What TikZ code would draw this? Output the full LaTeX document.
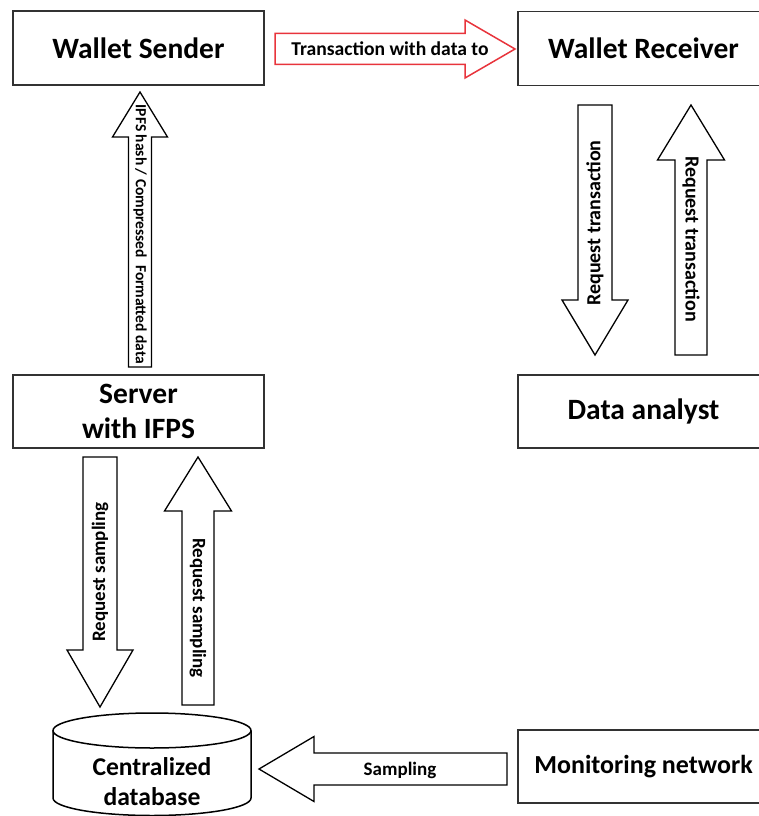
\documentclass[tikz,border=0pt]{standalone}
\usepackage{fontspec}
\setmainfont{Carlito}
\usetikzlibrary{calc}
\definecolor{arrowred}{RGB}{232,52,60}
\definecolor{boxline}{RGB}{50,50,50}
% #1 start, #2 end, #3 half shaft, #4 half head, #5 head length, #6 style
\newcommand{\blockarrow}[6]{%
  \coordinate (ba-hb) at ($(#2)!#5!(#1)$);
  \draw[#6] ($(#1)!#3!90:(#2)$) -- ($(ba-hb)!#3!90:(#2)$) -- ($(ba-hb)!#4!90:(#2)$)
    -- (#2) -- ($(ba-hb)!#4!-90:(#2)$) -- ($(ba-hb)!#3!-90:(#2)$) -- ($(#1)!#3!-90:(#2)$) -- cycle;
}
\begin{document}
\begin{tikzpicture}[x=1pt,y=-1pt,
  box/.style={draw=boxline, line width=1.5pt, fill=white, minimum width=251pt, minimum height=73pt,
    inner sep=0pt, align=center, font=\bfseries\fontsize{29.5}{35}\selectfont},
  blockarr/.style={draw=black, line width=1.3pt, fill=white, line join=miter},
  redarr/.style={draw=arrowred, line width=1.5pt, fill=white, line join=miter},
  arrlabel/.style={inner sep=0pt, font=\bfseries\fontsize{19}{22}\selectfont},
  dbline/.style={draw=black, line width=1.5pt}]
\useasboundingbox (0,0) rectangle (758,816);

% boxes
\node[box, minimum height=74pt] (sender) at (138.5,48) {Wallet Sender};
\node[box, minimum height=74pt] (receiver) at (643.5,48.5) {Wallet Receiver};
\node[box] (server) at (138.5,411.5) {Server\\with IFPS};
\node[box] (analyst) at (643.5,411.5) {Data analyst};
\node[box, font=\bfseries\fontsize{26}{31}\selectfont] (monitor) at (643.5,766.5) {Monitoring network};

% database cylinder
\fill[white] (53,730.5) -- (53,798) arc[start angle=180,end angle=360,x radius=99pt,y radius=17.5pt] -- (251,730.5) -- cycle;
\draw[dbline] (53,730.5) -- (53,798) arc[start angle=180,end angle=360,x radius=99pt,y radius=17.5pt] -- (251,730.5);
\draw[dbline, fill=white] (152,730.5) ellipse [x radius=99pt, y radius=17.5pt];
\node[align=center, inner sep=0pt, font=\bfseries\fontsize{25.6}{30}\selectfont] (db) at (152,782) {Centralized\\database};

% connector end points
\coordinate (txS) at (275,49);  \coordinate (txE) at (515,49);
\coordinate (ipS) at (140,367); \coordinate (ipE) at (140,92);
\coordinate (rtdS) at (595,105); \coordinate (rtdE) at (595,355);
\coordinate (rtuS) at (691,355); \coordinate (rtuE) at (691,105);
\coordinate (rsdS) at (100,457); \coordinate (rsdE) at (100,707);
\coordinate (rsuS) at (198,705); \coordinate (rsuE) at (198,457);
\coordinate (smS) at (507,769); \coordinate (smE) at (259,769);

% block arrows
\blockarrow{txS}{txE}{15.5pt}{29pt}{50pt}{redarr}
\blockarrow{ipS}{ipE}{11.5pt}{27.5pt}{45pt}{blockarr}
\blockarrow{rtdS}{rtdE}{17pt}{33pt}{55pt}{blockarr}
\blockarrow{rtuS}{rtuE}{16pt}{33.5pt}{55pt}{blockarr}
\blockarrow{rsdS}{rsdE}{17pt}{33pt}{57pt}{blockarr}
\blockarrow{rsuS}{rsuE}{16pt}{33.5pt}{54pt}{blockarr}
\blockarrow{smS}{smE}{16pt}{32.5pt}{55pt}{blockarr}

% labels
\node[arrlabel, font=\bfseries\fontsize{19.6}{22}\selectfont] (txL) at (390,49) {Transaction with data to};
\node[arrlabel, font=\bfseries\fontsize{15.5}{18}\selectfont, rotate=-90] (ipL) at (140,234.5) {IPFS hash / Compressed\ \ Formatted data};
\node[arrlabel, font=\bfseries\fontsize{20}{22}\selectfont, rotate=90] (rtdL) at (595,223) {Request transaction};
\node[arrlabel, font=\bfseries\fontsize{20}{22}\selectfont, rotate=-90] (rtuL) at (691,239) {Request transaction};
\node[arrlabel, rotate=90] (rsdL) at (100,572) {Request sampling};
\node[arrlabel, rotate=-90] (rsuL) at (198,608) {Request sampling};
\node[arrlabel] (smL) at (400,770) {Sampling};
\end{tikzpicture}
\end{document}
